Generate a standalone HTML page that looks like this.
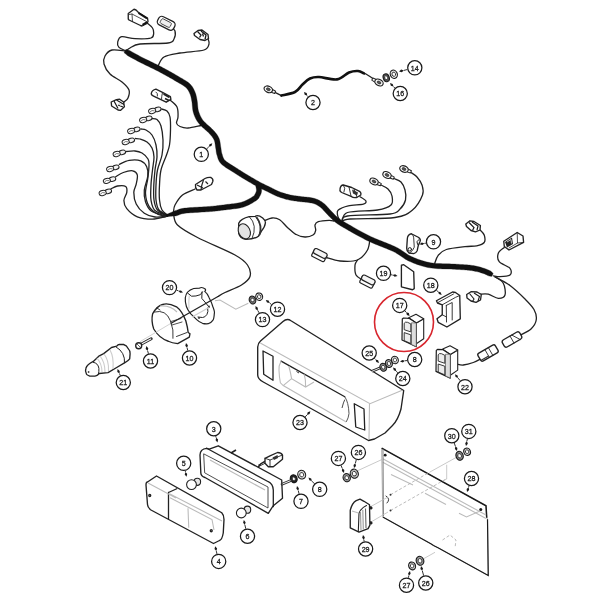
<!DOCTYPE html>
<html><head><meta charset="utf-8"><style>
html,body{margin:0;padding:0;background:#fff;width:600px;height:600px;overflow:hidden}
svg{display:block;transform:translateZ(0);filter:blur(0.3px)}
text{font-family:"Liberation Sans",sans-serif;font-size:8.1px;letter-spacing:0px;text-anchor:middle;fill:#1a1a1a;stroke:#1a1a1a;stroke-width:0.3}
.w{fill:none;stroke:#222;stroke-width:1.3;stroke-linecap:round;stroke-linejoin:round}
.h{fill:none;stroke:#111;stroke-width:5.5;stroke-linecap:round;stroke-linejoin:round}
.o{fill:#fff;stroke:#222;stroke-width:1.35;stroke-linejoin:round}
.of{fill:none;stroke:#222;stroke-width:1.3;stroke-linejoin:round;stroke-linecap:round}
.g{fill:none;stroke:#bbb;stroke-width:1.1}
.lc{fill:#fff;stroke:#1a1a1a;stroke-width:1.25}
.ld{stroke:#1a1a1a;stroke-width:0.9}
.ah{fill:#1a1a1a}
.dk{fill:#333;stroke:#111;stroke-width:0.8}
</style></head><body>
<svg width="600" height="600" viewBox="0 0 600 600">
<path d="M147.0,23.0 C147.9,23.8 151.4,26.3 152.5,28.0 C153.6,29.7 153.9,31.3 153.7,33.0 C153.4,34.7 154.1,37.0 151.0,38.0 C147.9,39.0 139.9,38.9 135.0,38.7 C130.1,38.5 124.6,36.2 121.7,36.7 C118.8,37.2 118.2,40.2 117.7,42.0 C117.2,43.8 117.8,45.9 119.0,47.3 C120.2,48.7 124.0,50.0 125.0,50.5" class="w"/>
<path d="M171.0,27.0 C171.7,27.7 174.5,29.0 175.0,31.0 C175.5,33.0 175.2,37.0 174.0,39.0 C172.8,41.0 173.7,42.2 168.0,43.0 C162.3,43.8 146.3,43.2 140.0,44.0 C133.7,44.8 132.3,46.8 130.0,48.0 C127.7,49.2 126.7,50.5 126.0,51.0" class="w"/>
<path d="M208.0,39.0 C208.2,39.8 209.7,42.2 209.0,44.0 C208.3,45.8 208.8,48.5 204.0,50.0 C199.2,51.5 186.7,51.8 180.0,53.0 C173.3,54.2 167.7,54.8 164.0,57.0 C160.3,59.2 159.0,64.5 158.0,66.0" class="w"/>
<path d="M125.0,51.0 C122.8,50.8 115.3,49.2 112.0,50.0 C108.7,50.8 106.3,53.7 105.0,56.0 C103.7,58.3 103.2,61.0 104.0,64.0 C104.8,67.0 107.0,71.0 110.0,74.0 C113.0,77.0 118.8,79.3 122.0,82.0 C125.2,84.7 128.0,87.3 129.0,90.0 C130.0,92.7 128.8,96.0 128.0,98.0 C127.2,100.0 124.7,101.3 124.0,102.0" class="w"/>
<path d="M170.0,100.0 C171.2,101.2 175.7,104.2 177.0,107.0 C178.3,109.8 178.1,114.3 178.0,117.0 C177.9,119.7 176.2,121.4 176.5,123.0 C176.8,124.6 178.1,125.7 180.0,126.5 C181.9,127.3 184.5,128.2 188.0,128.0 C191.5,127.8 198.8,125.9 201.0,125.5" class="w"/>
<path d="M161.5,109.0 C162.4,109.3 165.6,109.7 167.0,111.0 C168.4,112.3 169.4,113.8 170.0,117.0 C170.6,120.2 170.6,125.3 170.5,130.0 C170.4,134.7 170.2,140.8 169.5,145.0 C168.8,149.2 167.9,150.8 166.5,155.0 C165.1,159.2 162.2,165.0 161.0,170.0 C159.8,175.0 159.8,180.0 159.5,185.0 C159.2,190.0 159.1,195.8 159.5,200.0 C159.9,204.2 160.7,207.5 162.0,210.0 C163.3,212.5 166.6,214.2 167.5,215.0" class="w"/>
<path d="M152.0,118.5 C152.8,118.7 155.5,118.2 157.0,119.5 C158.5,120.8 160.0,122.6 161.0,126.0 C162.0,129.4 162.8,135.2 163.0,140.0 C163.2,144.8 162.9,150.0 162.0,155.0 C161.1,160.0 158.5,165.0 157.5,170.0 C156.5,175.0 156.2,180.0 156.0,185.0 C155.8,190.0 155.5,195.8 156.0,200.0 C156.5,204.2 157.1,207.5 159.0,210.0 C160.9,212.5 166.1,214.3 167.5,215.2" class="w"/>
<path d="M141.0,129.0 C141.8,129.2 144.2,129.0 146.0,130.0 C147.8,131.0 150.3,132.5 152.0,135.0 C153.7,137.5 155.2,141.3 156.0,145.0 C156.8,148.7 157.2,152.8 157.0,157.0 C156.8,161.2 155.5,165.3 155.0,170.0 C154.5,174.7 154.0,180.0 153.8,185.0 C153.6,190.0 153.4,195.8 154.0,200.0 C154.6,204.2 155.2,207.4 157.5,210.0 C159.8,212.6 165.8,214.5 167.5,215.4" class="w"/>
<path d="M135.5,138.5 C136.2,138.6 138.1,138.4 140.0,139.0 C141.9,139.6 145.0,140.5 147.0,142.0 C149.0,143.5 150.8,145.5 152.0,148.0 C153.2,150.5 153.9,153.3 154.0,157.0 C154.1,160.7 153.0,165.3 152.5,170.0 C152.0,174.7 151.2,180.0 151.0,185.0 C150.8,190.0 150.3,195.8 151.0,200.0 C151.7,204.2 152.2,207.9 155.0,210.5 C157.8,213.1 165.4,214.8 167.5,215.6" class="w"/>
<path d="M126.5,151.5 C127.9,151.4 132.4,150.8 135.0,151.0 C137.6,151.2 139.8,151.7 142.0,153.0 C144.2,154.3 146.8,157.0 148.0,159.0 C149.2,161.0 149.0,161.8 149.0,165.0 C149.0,168.2 148.4,173.6 147.8,178.3 C147.2,183.1 145.3,188.8 145.5,193.5 C145.7,198.2 146.9,202.8 149.0,206.3 C151.1,209.8 155.2,212.9 158.3,214.5 C161.4,216.1 166.0,215.6 167.5,215.8" class="w"/>
<path d="M119.3,164.3 C120.9,163.6 125.6,160.9 129.2,160.3 C132.8,159.7 137.9,159.7 140.8,160.8 C143.7,161.9 145.5,164.2 146.7,166.7 C147.9,169.2 148.2,172.1 147.8,176.0 C147.4,179.9 144.7,185.7 144.3,190.0 C143.9,194.3 144.3,198.2 145.5,201.7 C146.7,205.2 148.0,208.7 151.3,211.0 C154.6,213.3 162.6,214.9 165.3,215.7 C168.0,216.5 167.1,215.9 167.5,216.0" class="w"/>
<path d="M115.8,176.6 C117.0,175.9 120.5,173.5 123.3,172.5 C126.1,171.5 130.4,170.4 132.7,170.8 C135.0,171.2 136.7,172.6 137.3,174.8 C137.9,177.0 136.8,181.3 136.2,184.2 C135.6,187.1 133.8,189.0 133.8,192.3 C133.8,195.6 134.4,200.5 136.2,204.0 C137.9,207.5 141.2,211.1 144.3,213.3 C147.4,215.5 151.1,216.5 155.0,217.0 C158.9,217.5 165.4,216.3 167.5,216.2" class="w"/>
<path d="M111.0,188.8 C112.1,188.3 115.0,186.4 117.5,186.0 C120.0,185.6 124.2,185.4 125.7,186.5 C127.2,187.6 127.1,190.0 126.8,192.3 C126.5,194.6 123.9,197.8 123.9,200.5 C123.9,203.2 124.6,206.0 126.8,208.7 C129.0,211.4 133.0,215.1 137.3,216.8 C141.6,218.6 147.8,219.2 152.5,219.2 C157.2,219.2 162.4,217.4 165.3,216.8 C168.2,216.2 169.2,215.7 170.0,215.5" class="w"/>
<path d="M195.0,189.0 C192.9,190.0 185.8,192.3 182.5,195.0 C179.2,197.7 176.5,202.2 175.0,205.0 C173.5,207.8 173.8,210.8 173.5,212.0" class="w"/>
<path d="M173.5,214.0 C174.2,215.8 173.5,221.1 177.5,225.0 C181.5,228.9 187.9,232.5 197.5,237.5 C207.1,242.5 226.7,250.4 235.0,255.0 C243.3,259.6 245.0,261.4 247.5,265.0 C250.0,268.6 251.0,273.2 250.0,276.5 C249.0,279.8 245.7,282.3 241.5,285.0 C237.3,287.7 228.9,290.6 225.0,292.5 C221.1,294.4 219.2,295.8 218.0,296.5" class="w"/>
<path d="M264.7,220.7 C265.9,220.2 269.5,218.2 272.0,218.0 C274.5,217.8 277.1,218.1 279.7,219.7 C282.3,221.3 285.0,225.3 287.7,227.7 C290.4,230.1 292.8,232.8 295.7,234.3 C298.6,235.9 302.1,236.9 305.0,237.0 C307.9,237.1 311.2,236.1 313.0,235.0 C314.8,233.9 315.4,232.0 315.7,230.3 C316.0,228.6 314.6,226.4 315.0,225.0 C315.4,223.6 316.0,222.5 318.3,221.7 C320.6,220.9 326.4,220.4 329.0,220.3 C331.6,220.2 333.2,220.9 334.0,221.0" class="w"/>
<path d="M360.0,196.7 C361.0,197.4 365.2,199.6 365.8,200.8 C366.4,202.1 366.2,203.4 363.3,204.2 C360.4,205.0 352.5,204.8 348.3,205.8 C344.1,206.8 340.1,208.5 338.3,210.0 C336.5,211.5 337.3,213.2 337.5,215.0 C337.7,216.8 339.2,219.6 339.5,220.5" class="w"/>
<path d="M381.0,185.0 C382.2,185.7 386.2,187.2 388.0,189.0 C389.8,190.8 391.5,193.3 392.0,196.0 C392.5,198.7 393.4,202.7 391.0,205.0 C388.6,207.3 384.8,208.8 377.5,210.0 C370.2,211.2 353.4,210.5 347.5,212.5 C341.6,214.5 342.9,220.4 342.0,222.0" class="w"/>
<path d="M394.0,178.5 C395.2,179.1 399.2,180.1 401.0,182.0 C402.8,183.9 404.2,187.0 405.0,190.0 C405.8,193.0 406.3,196.8 405.5,200.0 C404.7,203.2 402.6,206.7 400.0,209.0 C397.4,211.3 398.8,212.8 390.0,214.0 C381.2,215.2 355.5,214.7 347.5,216.0 C339.5,217.3 342.9,221.0 342.0,222.0" class="w"/>
<path d="M411.0,172.5 C412.0,173.2 415.2,174.9 417.0,177.0 C418.8,179.1 421.1,182.0 422.0,185.0 C422.9,188.0 424.1,190.8 422.5,195.0 C420.9,199.2 417.1,206.2 412.5,210.0 C407.9,213.8 405.4,216.0 395.0,217.5 C384.6,219.0 358.8,218.2 350.0,219.0 C341.2,219.8 343.3,221.5 342.0,222.0" class="w"/>
<path d="M326.0,257.5 C328.3,258.1 334.8,260.6 340.0,261.0 C345.2,261.4 352.9,261.8 357.5,260.0 C362.1,258.2 365.4,253.7 367.5,250.0 C369.6,246.3 369.6,240.0 370.0,238.0" class="w"/>
<path d="M357.5,260.0 C357.1,260.8 355.2,262.5 355.0,265.0 C354.8,267.5 354.8,272.5 356.0,275.0 C357.2,277.5 361.4,279.2 362.5,280.0" class="w"/>
<path d="M434.7,263.5 C435.3,262.1 436.3,257.6 438.2,255.3 C440.1,253.0 441.8,250.9 446.3,249.5 C450.8,248.1 459.9,247.2 465.0,246.6 C470.1,246.0 473.5,246.5 476.7,245.8 C479.9,245.1 482.9,244.3 484.2,242.5 C485.4,240.7 484.9,237.1 484.2,235.0 C483.5,232.9 480.7,230.8 480.0,230.0" class="w"/>
<path d="M493.3,275.8 C494.4,275.9 497.2,276.8 500.0,276.7 C502.8,276.6 508.3,276.4 510.0,275.0 C511.7,273.6 511.8,270.5 510.0,268.3 C508.2,266.1 501.1,264.2 499.2,261.7 C497.2,259.2 497.5,255.7 498.3,253.3 C499.1,250.9 503.2,248.5 504.2,247.5" class="w"/>
<path d="M495.0,276.7 C496.4,277.8 501.6,280.2 503.3,283.3 C505.0,286.4 505.8,292.5 505.0,295.0 C504.2,297.5 501.1,298.4 498.3,298.3 C495.5,298.2 491.4,294.9 488.3,294.2 C485.2,293.5 481.4,294.2 480.0,294.2" class="w"/>
<path d="M495.0,277.0 C497.5,278.4 505.0,281.8 510.0,285.5 C515.0,289.2 521.0,295.0 525.0,299.0 C529.0,303.0 532.1,306.0 534.0,309.5 C535.9,313.0 536.8,316.8 536.2,320.0 C535.8,323.2 533.6,326.5 531.0,329.0 C528.4,331.5 522.2,334.0 520.5,335.0" class="w"/>
<path d="M456.7,364.2 C457.8,364.3 460.5,365.3 463.3,365.0 C466.1,364.7 470.5,363.5 473.3,362.5 C476.1,361.5 478.9,359.8 480.0,359.2" class="w"/>
<path d="M275.0,92.3 C276.1,92.8 280.4,95.0 281.5,95.6" class="w"/>
<path d="M364.0,73.4 C364.3,73.5 364.5,73.2 366.0,74.0 C367.5,74.8 371.8,77.8 373.0,78.5" class="w"/>
<path d="M258.3,466.7 C258.9,466.1 260.7,463.9 262.0,463.0 C263.3,462.1 265.3,461.3 266.0,461.0" class="w"/>
<path d="M124.07,52.66 L124.70,53.19 L125.46,53.85 L126.35,54.62 L127.37,55.44 L128.61,56.14 L129.93,56.88 L131.32,57.67 L132.77,58.47 L134.25,59.29 L135.76,60.10 L137.26,60.91 L138.76,61.70 L140.28,62.48 L141.87,63.27 L143.51,64.08 L145.19,64.90 L146.91,65.73 L148.64,66.57 L150.38,67.41 L152.11,68.25 L153.83,69.09 L155.51,69.93 L157.16,70.77 L158.75,71.59 L160.32,72.43 L161.92,73.29 L163.53,74.16 L165.14,75.05 L166.73,75.93 L168.30,76.81 L169.83,77.68 L171.32,78.53 L172.76,79.36 L174.13,80.16 L175.42,80.91 L176.63,81.63 L177.77,82.30 L178.84,82.92 L179.84,83.50 L180.77,84.04 L181.63,84.55 L182.43,85.03 L183.17,85.49 L183.85,85.95 L184.48,86.39 L185.07,86.84 L185.62,87.29 L186.14,87.76 L186.62,88.24 L187.05,88.71 L187.43,89.18 L187.79,89.66 L188.11,90.15 L188.41,90.65 L188.69,91.17 L188.97,91.71 L189.23,92.26 L189.49,92.84 L189.75,93.44 L190.01,94.04 L190.24,94.60 L190.43,95.14 L190.61,95.67 L190.77,96.22 L190.92,96.78 L191.05,97.36 L191.19,97.97 L191.31,98.60 L191.44,99.27 L191.57,99.97 L191.70,100.71 L191.84,101.46 L191.96,102.20 L192.06,102.97 L192.14,103.81 L192.22,104.71 L192.29,105.64 L192.37,106.61 L192.47,107.61 L192.58,108.63 L192.72,109.66 L192.90,110.71 L193.13,111.76 L193.41,112.77 L193.72,113.72 L194.03,114.63 L194.37,115.55 L194.73,116.46 L195.12,117.37 L195.54,118.27 L195.99,119.17 L196.49,120.07 L197.02,120.97 L197.59,121.87 L198.28,122.70 L198.95,123.60 L199.71,124.53 L200.56,125.44 L201.45,126.33 L202.37,127.19 L203.32,128.04 L204.26,128.87 L205.20,129.68 L206.11,130.46 L206.97,131.22 L207.76,131.94 L208.47,132.62 L209.10,133.28 L209.70,133.93 L210.28,134.58 L210.82,135.19 L211.32,135.77 L211.77,136.32 L212.20,136.86 L212.58,137.38 L212.94,137.90 L213.27,138.41 L213.57,138.94 L213.86,139.48 L214.11,140.03 L214.34,140.59 L214.53,141.18 L214.70,141.82 L214.85,142.50 L214.98,143.21 L215.10,143.95 L215.20,144.70 L215.30,145.46 L215.40,146.23 L215.50,146.99 L215.62,147.75 L215.74,148.46 L215.85,149.06 L215.93,149.59 L216.00,150.11 L216.07,150.62 L216.13,151.14 L216.20,151.67 L216.28,152.22 L216.37,152.80 L216.49,153.40 L216.64,154.02 L216.82,154.68 L217.03,155.31 L217.21,155.87 L217.38,156.43 L217.55,157.05 L217.74,157.72 L217.97,158.43 L218.23,159.19 L218.56,159.98 L218.96,160.80 L219.44,161.64 L220.02,162.49 L220.70,163.33 L221.48,164.16 L222.39,164.98 L223.40,165.80 L224.49,166.60 L225.66,167.41 L226.87,168.21 L228.11,169.00 L229.36,169.77 L230.59,170.52 L231.78,171.25 L232.91,171.94 L233.95,172.58 L234.89,173.18 L235.74,173.74 L236.52,174.25 L237.25,174.73 L237.94,175.17 L238.59,175.60 L239.24,176.01 L239.88,176.42 L240.55,176.83 L241.24,177.26 L241.98,177.71 L242.78,178.20 L243.66,178.73 L244.62,179.30 L245.65,179.92 L246.74,180.56 L247.87,181.23 L249.03,181.92 L250.22,182.61 L251.41,183.30 L252.60,183.99 L253.77,184.65 L254.91,185.30 L256.01,185.91 L257.06,186.49 L258.07,187.03 L259.06,187.54 L260.02,188.03 L260.95,188.50 L261.87,188.95 L262.77,189.39 L263.65,189.81 L264.51,190.23 L265.36,190.63 L266.20,191.03 L267.03,191.43 L267.85,191.83 L268.65,192.23 L269.43,192.63 L270.20,193.02 L270.96,193.41 L271.71,193.80 L272.47,194.19 L273.24,194.58 L274.02,194.96 L274.82,195.34 L275.64,195.71 L276.48,196.07 L277.35,196.42 L278.24,196.76 L279.14,197.09 L280.07,197.41 L281.00,197.73 L281.94,198.03 L282.89,198.32 L283.84,198.61 L284.78,198.88 L285.71,199.14 L286.62,199.38 L287.52,199.61 L288.40,199.83 L289.24,200.02 L290.04,200.20 L290.81,200.35 L291.56,200.48 L292.29,200.60 L293.01,200.70 L293.74,200.81 L294.49,200.91 L295.27,201.01 L296.09,201.12 L296.97,201.24 L297.95,201.38 L299.05,201.52 L300.26,201.66 L301.53,201.80 L302.86,201.93 L304.21,202.07 L305.58,202.22 L306.93,202.37 L308.24,202.53 L309.49,202.70 L310.66,202.89 L311.72,203.10 L312.65,203.32 L313.49,203.55 L314.26,203.80 L314.97,204.06 L315.62,204.33 L316.23,204.61 L316.80,204.90 L317.36,205.21 L317.90,205.54 L318.45,205.89 L319.00,206.27 L319.57,206.67 L320.15,207.09 L320.68,207.49 L321.16,207.90 L321.64,208.34 L322.11,208.81 L322.59,209.31 L323.07,209.84 L323.57,210.40 L324.09,210.98 L324.63,211.59 L325.20,212.22 L325.81,212.87 L326.44,213.52 L327.06,214.15 L327.67,214.79 L328.30,215.46 L328.94,216.16 L329.61,216.87 L330.31,217.61 L331.03,218.35 L331.77,219.10 L332.55,219.85 L333.36,220.60 L334.21,221.33 L335.09,222.04 L335.96,222.71 L336.81,223.33 L337.66,223.93 L338.52,224.51 L339.40,225.08 L340.30,225.65 L341.25,226.23 L342.25,226.82 L343.31,227.44 L344.45,228.10 L345.68,228.80 L347.01,229.56 L348.46,230.38 L350.01,231.27 L351.66,232.21 L353.39,233.18 L355.19,234.20 L357.06,235.23 L358.98,236.27 L360.93,237.32 L362.91,238.36 L364.90,239.39 L366.90,240.39 L368.89,241.35 L370.94,242.29 L373.07,243.22 L375.26,244.14 L377.48,245.05 L379.72,245.94 L381.95,246.82 L384.15,247.69 L386.30,248.54 L388.36,249.39 L390.33,250.22 L392.17,251.03 L393.85,251.83 L395.36,252.61 L396.72,253.39 L397.98,254.17 L399.17,254.95 L400.31,255.74 L401.42,256.53 L402.55,257.32 L403.71,258.12 L404.93,258.91 L406.23,259.69 L407.62,260.44 L409.11,261.16 L410.63,261.84 L412.16,262.49 L413.73,263.14 L415.33,263.77 L416.97,264.39 L418.65,264.98 L420.37,265.54 L422.12,266.07 L423.91,266.57 L425.75,267.03 L427.63,267.44 L429.56,267.81 L431.58,268.12 L433.70,268.37 L435.88,268.56 L438.11,268.71 L440.36,268.81 L442.61,268.90 L444.84,268.96 L447.03,269.01 L449.14,269.06 L451.17,269.12 L453.07,269.20 L454.85,269.30 L456.54,269.40 L458.16,269.50 L459.71,269.59 L461.19,269.68 L462.61,269.76 L463.97,269.85 L465.28,269.94 L466.55,270.04 L467.78,270.15 L468.98,270.27 L470.16,270.41 L471.32,270.57 L472.47,270.75 L473.58,270.95 L474.66,271.16 L475.71,271.38 L476.73,271.61 L477.73,271.85 L478.69,272.10 L479.64,272.36 L480.55,272.63 L481.45,272.90 L482.32,273.18 L483.15,273.46 L483.95,273.74 L484.74,274.06 L485.54,274.40 L486.32,274.76 L487.10,275.13 L487.84,275.51 L488.55,275.87 L489.33,276.03 L490.06,276.15 L490.72,276.26 L491.31,276.36 L491.79,276.44 L493.21,273.56 L492.89,273.24 L492.52,272.85 L492.06,272.37 L491.55,271.83 L490.95,271.26 L490.20,270.87 L489.39,270.46 L488.53,270.05 L487.65,269.65 L486.73,269.25 L485.79,268.88 L484.85,268.54 L483.92,268.24 L482.99,267.94 L482.04,267.65 L481.05,267.36 L480.04,267.08 L479.00,266.81 L477.93,266.55 L476.82,266.30 L475.69,266.06 L474.52,265.83 L473.32,265.62 L472.08,265.43 L470.82,265.25 L469.55,265.10 L468.28,264.97 L466.98,264.86 L465.66,264.75 L464.32,264.66 L462.93,264.57 L461.50,264.49 L460.01,264.40 L458.47,264.31 L456.86,264.21 L455.15,264.10 L453.31,264.00 L451.34,263.93 L449.28,263.87 L447.15,263.81 L444.98,263.76 L442.78,263.70 L440.58,263.62 L438.40,263.51 L436.28,263.38 L434.22,263.20 L432.27,262.97 L430.44,262.69 L428.68,262.35 L426.94,261.97 L425.24,261.54 L423.57,261.08 L421.93,260.58 L420.32,260.05 L418.75,259.50 L417.20,258.92 L415.68,258.32 L414.18,257.70 L412.71,257.07 L411.29,256.44 L409.99,255.81 L408.80,255.17 L407.68,254.50 L406.60,253.79 L405.52,253.05 L404.43,252.28 L403.28,251.47 L402.08,250.64 L400.78,249.78 L399.37,248.92 L397.83,248.04 L396.15,247.17 L394.33,246.31 L392.40,245.45 L390.36,244.59 L388.24,243.72 L386.07,242.85 L383.86,241.98 L381.64,241.10 L379.42,240.22 L377.24,239.33 L375.11,238.44 L373.06,237.55 L371.11,236.65 L369.19,235.72 L367.25,234.75 L365.31,233.75 L363.37,232.73 L361.45,231.70 L359.56,230.67 L357.72,229.65 L355.94,228.65 L354.22,227.68 L352.58,226.75 L351.03,225.87 L349.59,225.04 L348.26,224.28 L347.04,223.59 L345.92,222.94 L344.89,222.34 L343.93,221.77 L343.03,221.23 L342.19,220.70 L341.39,220.18 L340.61,219.65 L339.85,219.11 L339.08,218.55 L338.31,217.96 L337.55,217.34 L336.82,216.71 L336.11,216.06 L335.42,215.39 L334.74,214.71 L334.07,214.02 L333.41,213.32 L332.75,212.61 L332.10,211.91 L331.45,211.22 L330.80,210.53 L330.16,209.88 L329.57,209.28 L329.03,208.70 L328.50,208.12 L327.98,207.53 L327.46,206.94 L326.93,206.35 L326.39,205.76 L325.82,205.17 L325.23,204.58 L324.61,204.01 L323.94,203.44 L323.25,202.91 L322.59,202.44 L321.96,201.99 L321.32,201.55 L320.65,201.13 L319.97,200.71 L319.25,200.31 L318.49,199.93 L317.69,199.56 L316.84,199.21 L315.95,198.88 L314.99,198.58 L313.95,198.28 L312.81,198.01 L311.57,197.77 L310.27,197.56 L308.92,197.37 L307.53,197.20 L306.14,197.05 L304.75,196.90 L303.39,196.76 L302.07,196.63 L300.83,196.49 L299.69,196.36 L298.65,196.22 L297.69,196.09 L296.78,195.96 L295.95,195.85 L295.17,195.75 L294.44,195.65 L293.75,195.56 L293.09,195.46 L292.43,195.35 L291.77,195.23 L291.09,195.10 L290.37,194.95 L289.60,194.77 L288.79,194.57 L287.94,194.35 L287.08,194.12 L286.19,193.88 L285.30,193.62 L284.41,193.35 L283.52,193.07 L282.63,192.79 L281.75,192.49 L280.89,192.19 L280.05,191.89 L279.25,191.58 L278.48,191.27 L277.73,190.95 L277.00,190.62 L276.28,190.28 L275.55,189.92 L274.83,189.56 L274.09,189.18 L273.35,188.79 L272.58,188.40 L271.80,187.99 L270.99,187.58 L270.15,187.17 L269.30,186.75 L268.45,186.35 L267.60,185.94 L266.75,185.54 L265.90,185.13 L265.03,184.71 L264.16,184.28 L263.27,183.85 L262.37,183.39 L261.44,182.92 L260.50,182.43 L259.54,181.91 L258.52,181.36 L257.45,180.76 L256.33,180.13 L255.18,179.47 L254.01,178.80 L252.83,178.12 L251.66,177.43 L250.51,176.75 L249.39,176.09 L248.31,175.45 L247.29,174.84 L246.34,174.27 L245.47,173.75 L244.69,173.27 L243.97,172.83 L243.29,172.41 L242.65,172.01 L242.03,171.62 L241.40,171.22 L240.76,170.81 L240.09,170.37 L239.37,169.90 L238.58,169.39 L237.71,168.82 L236.72,168.18 L235.64,167.51 L234.49,166.81 L233.30,166.08 L232.09,165.34 L230.88,164.59 L229.69,163.84 L228.56,163.10 L227.51,162.37 L226.57,161.67 L225.76,161.02 L225.12,160.44 L224.61,159.90 L224.19,159.38 L223.84,158.87 L223.55,158.37 L223.31,157.86 L223.09,157.33 L222.90,156.79 L222.72,156.22 L222.55,155.63 L222.38,155.00 L222.18,154.33 L221.97,153.69 L221.80,153.16 L221.67,152.72 L221.57,152.29 L221.49,151.86 L221.42,151.43 L221.35,150.98 L221.29,150.50 L221.23,149.98 L221.16,149.43 L221.08,148.83 L220.98,148.19 L220.86,147.54 L220.75,146.92 L220.65,146.26 L220.56,145.55 L220.46,144.80 L220.36,144.00 L220.24,143.18 L220.10,142.33 L219.94,141.46 L219.75,140.59 L219.51,139.71 L219.23,138.82 L218.89,137.97 L218.52,137.18 L218.13,136.43 L217.71,135.72 L217.28,135.03 L216.81,134.36 L216.33,133.70 L215.82,133.06 L215.29,132.42 L214.74,131.77 L214.16,131.12 L213.56,130.45 L212.90,129.72 L212.15,128.94 L211.31,128.14 L210.43,127.34 L209.52,126.54 L208.60,125.74 L207.67,124.94 L206.76,124.15 L205.89,123.36 L205.06,122.59 L204.30,121.83 L203.63,121.10 L203.05,120.40 L202.51,119.67 L202.09,118.88 L201.62,118.15 L201.18,117.41 L200.78,116.66 L200.40,115.92 L200.05,115.16 L199.72,114.39 L199.41,113.62 L199.12,112.83 L198.84,112.02 L198.59,111.23 L198.38,110.46 L198.20,109.67 L198.06,108.84 L197.94,107.96 L197.84,107.06 L197.75,106.14 L197.67,105.20 L197.60,104.26 L197.52,103.31 L197.42,102.37 L197.30,101.43 L197.16,100.54 L197.02,99.74 L196.88,99.00 L196.75,98.28 L196.61,97.56 L196.47,96.86 L196.32,96.16 L196.15,95.47 L195.97,94.77 L195.77,94.07 L195.53,93.37 L195.27,92.66 L194.99,91.96 L194.71,91.30 L194.43,90.65 L194.13,89.99 L193.81,89.32 L193.47,88.65 L193.09,87.96 L192.67,87.27 L192.21,86.57 L191.71,85.88 L191.15,85.19 L190.53,84.51 L189.86,83.84 L189.15,83.20 L188.42,82.60 L187.67,82.03 L186.89,81.48 L186.09,80.95 L185.26,80.43 L184.40,79.91 L183.49,79.38 L182.55,78.83 L181.55,78.25 L180.49,77.64 L179.37,76.97 L178.15,76.26 L176.85,75.49 L175.46,74.69 L174.01,73.85 L172.50,72.99 L170.95,72.11 L169.36,71.22 L167.75,70.32 L166.12,69.43 L164.49,68.54 L162.87,67.66 L161.25,66.81 L159.62,65.96 L157.94,65.11 L156.22,64.25 L154.48,63.40 L152.73,62.55 L150.99,61.71 L149.25,60.87 L147.55,60.05 L145.88,59.23 L144.27,58.44 L142.72,57.66 L141.24,56.90 L139.79,56.14 L138.32,55.35 L136.84,54.55 L135.38,53.74 L133.95,52.95 L132.57,52.18 L131.26,51.44 L130.04,50.74 L128.81,50.29 L127.69,49.92 L126.72,49.60 L125.93,49.34Z" style="fill:#111;stroke:#111;stroke-width:0.3;stroke-linejoin:round"/>
<path d="M255.73,185.91 L255.78,186.21 L255.85,186.57 L255.93,186.97 L256.01,187.39 L256.10,187.83 L256.18,188.28 L256.26,188.74 L256.33,189.18 L256.38,189.60 L256.41,189.97 L256.42,190.27 L256.41,190.51 L256.38,190.75 L256.34,191.01 L256.29,191.27 L256.22,191.53 L256.14,191.79 L256.05,192.05 L255.95,192.31 L255.84,192.58 L255.71,192.85 L255.57,193.12 L255.42,193.40 L255.24,193.72 L255.03,194.10 L254.84,194.46 L254.70,194.76 L254.59,194.98 L254.50,195.14 L254.42,195.26 L254.34,195.37 L254.22,195.51 L254.03,195.68 L253.76,195.91 L253.39,196.18 L252.88,196.52 L252.23,196.93 L251.49,197.40 L250.69,197.90 L249.83,198.42 L248.91,198.95 L247.95,199.48 L246.94,200.01 L245.91,200.52 L244.84,201.00 L243.76,201.45 L242.67,201.85 L241.57,202.21 L240.42,202.51 L239.17,202.80 L237.84,203.05 L236.44,203.28 L234.99,203.49 L233.51,203.69 L232.01,203.87 L230.50,204.04 L229.00,204.21 L227.52,204.37 L226.06,204.54 L224.67,204.72 L223.36,204.90 L222.14,205.06 L220.99,205.21 L219.87,205.35 L218.78,205.49 L217.68,205.62 L216.55,205.75 L215.38,205.88 L214.14,206.01 L212.81,206.14 L211.36,206.27 L209.79,206.41 L208.03,206.54 L206.07,206.68 L203.95,206.80 L201.71,206.93 L199.39,207.06 L197.04,207.19 L194.71,207.32 L192.43,207.46 L190.24,207.60 L188.20,207.76 L186.33,207.93 L184.67,208.12 L183.22,208.33 L181.94,208.56 L180.81,208.81 L179.80,209.08 L178.91,209.36 L178.11,209.64 L177.39,209.91 L176.75,210.17 L176.16,210.40 L175.58,210.61 L175.00,210.80 L174.37,211.11 L173.63,211.43 L172.84,211.76 L172.01,212.10 L171.18,212.43 L170.35,212.76 L169.53,213.08 L168.75,213.38 L168.01,213.67 L167.33,213.93 L166.73,214.16 L166.21,214.36 L165.79,214.52 L166.21,216.48 L166.66,216.45 L167.21,216.42 L167.85,216.39 L168.58,216.36 L169.37,216.32 L170.22,216.27 L171.10,216.22 L172.01,216.17 L172.93,216.11 L173.84,216.05 L174.74,215.98 L175.63,215.89 L176.50,215.78 L177.29,215.52 L178.00,215.26 L178.66,215.00 L179.28,214.76 L179.89,214.52 L180.53,214.30 L181.23,214.08 L182.03,213.87 L182.96,213.66 L184.05,213.46 L185.33,213.28 L186.85,213.11 L188.63,212.94 L190.62,212.79 L192.76,212.65 L195.01,212.51 L197.33,212.38 L199.67,212.25 L202.00,212.12 L204.25,211.99 L206.40,211.87 L208.41,211.73 L210.21,211.59 L211.82,211.45 L213.30,211.32 L214.66,211.18 L215.93,211.05 L217.13,210.92 L218.29,210.79 L219.41,210.65 L220.53,210.51 L221.66,210.37 L222.82,210.21 L224.04,210.05 L225.33,209.88 L226.69,209.71 L228.11,209.54 L229.58,209.38 L231.08,209.21 L232.62,209.03 L234.16,208.85 L235.71,208.65 L237.24,208.42 L238.75,208.17 L240.23,207.89 L241.66,207.56 L243.03,207.19 L244.36,206.77 L245.66,206.29 L246.91,205.77 L248.13,205.22 L249.30,204.64 L250.41,204.06 L251.47,203.47 L252.47,202.90 L253.40,202.34 L254.25,201.81 L255.02,201.33 L255.72,200.88 L256.37,200.44 L256.96,200.01 L257.48,199.57 L257.95,199.13 L258.35,198.68 L258.69,198.23 L258.97,197.80 L259.18,197.41 L259.35,197.07 L259.49,196.79 L259.62,196.55 L259.76,196.28 L259.96,195.93 L260.18,195.53 L260.38,195.13 L260.58,194.71 L260.76,194.28 L260.94,193.84 L261.09,193.38 L261.23,192.91 L261.35,192.43 L261.46,191.94 L261.53,191.43 L261.59,190.89 L261.62,190.29 L261.60,189.68 L261.55,189.08 L261.48,188.50 L261.40,187.93 L261.30,187.38 L261.21,186.86 L261.11,186.38 L261.03,185.94 L260.95,185.58 L260.90,185.30 L260.87,185.09Z" style="fill:#111;stroke:#111;stroke-width:0.3;stroke-linejoin:round"/>
<path d="M281.5,95.6 C283.8,95.0 291.5,93.8 295.0,92.0 C298.5,90.2 300.0,86.8 302.5,84.5 C305.0,82.2 307.2,79.8 310.0,78.5 C312.8,77.2 314.5,76.8 319.0,77.0 C323.5,77.2 332.0,80.2 337.0,79.4 C342.0,78.7 345.5,73.9 349.0,72.5 C352.5,71.1 355.5,70.8 358.0,71.0 C360.5,71.2 363.0,73.0 364.0,73.4" style="fill:none;stroke:#111;stroke-width:2.6;stroke-linecap:round"/>
<path d="M128.25,13.5 L134,9.25 L136,10 L138.5,12.5 L147.5,18 L148,21.5 L147,23.5 L142,26 L140.5,25.5 L129,20 L128.25,19 Z" class="o"/>
<path d="M129.5,14.5 L132,14 L146.5,21.5 M132,14 L132.5,21.5" class="of" style="stroke-width:0.8"/>
<path d="M138.5,13 L147,18.5 M142.5,24.8 L147.2,22" style="stroke:#111;stroke-width:2;fill:none"/>
<g transform="translate(166.2,23.3) rotate(27)"><rect x="-9" y="-4.6" width="18" height="9.2" rx="3.5" class="o" style="stroke-width:1.3"/><rect x="-6" y="-2.6" width="11" height="5.2" rx="1.5" style="fill:#eee;stroke:#333;stroke-width:0.8"/></g>
<path d="M194,33.5 L198,30.5 L202,30 L208,34.5 L208.5,38.5 L205,40.5 L200,39.5 L194.5,35.5 Z" class="o"/>
<path d="M197.5,31.5 L201,35 L199.5,37.5 M201,31 L206,35 L205,39.5 M202.5,33.5 L203.5,36.5" style="stroke:#1a1a1a;stroke-width:1.3;fill:none"/>
<path d="M111.2,102 L116.4,99.6 L119.6,99.2 L123.6,102 L124.4,106.8 L120.4,110.4 L118,110 L111.6,106 Z" class="o"/>
<path d="M114,101 L118,108.5 M116.5,100 L124,104.5 M118,105 L123,107" style="stroke:#1a1a1a;stroke-width:1.2;fill:none"/><path d="M119,102.5 L122,104.5 L121,106 L118.5,104.5 Z" style="fill:#ddd"/>
<path d="M151.3,93.3 Q152,90 155.9,89.1 L162.5,92.4 L170.4,96.6 L170.9,99.4 L166.2,102.2 L153.6,96.1 Q151,95 151.3,93.3 Z" class="o"/>
<path d="M162.5,92.4 Q161.5,97 161.5,99 M156,92 Q158,93 157.5,96" class="of" style="stroke-width:0.9"/><path d="M163.5,94 L169.5,97.5 M165,98.5 L169,100.5" style="stroke:#222;stroke-width:1.5"/>
<path d="M195.5,184.5 L205,178.5 Q208,177 211,177.5 Q213.5,179 212.8,181.5 L211.5,184.5 L201,190 L197,190 Q195,188 195.5,184.5 Z" class="o"/>
<path d="M203.5,180 Q201.5,185 201,190 M197,185 L203,188 M205.5,181.5 L208,184" style="stroke:#222;stroke-width:1.2;fill:none"/>
<path d="M340,189.2 Q340.5,185 343.3,185 L351.7,187.5 L360,191.7 Q361.5,193 360.8,195 L356.7,197.5 Q353,198 351.7,196.7 L341.7,192.5 Q339.5,191.5 340,189.2 Z" class="o"/>
<path d="M343.3,185 Q346,188 344,192 M349,187 L351,196 M354,189 L357,197" class="of" style="stroke-width:0.9"/><path d="M352,189.5 L358,192.5 L357,195.5 L353,193.5 Z" style="fill:#333"/>
<g transform="translate(319.5,255) rotate(27)"><rect x="-7" y="-3.5" width="14" height="8" rx="1.5" class="o" style="stroke-width:1.2"/><rect x="-7" y="-4.5" width="14" height="5.5" rx="2" style="fill:#f4f4f4;stroke:#222;stroke-width:1.2"/></g>
<g transform="translate(367.5,281.5) rotate(27)"><rect x="-7" y="-3.5" width="14" height="8" rx="1.5" class="o" style="stroke-width:1.2"/><rect x="-7" y="-4.5" width="14" height="5.5" rx="2" style="fill:#f4f4f4;stroke:#222;stroke-width:1.2"/></g>
<path d="M465.8,224 L470,220.8 L474,221.5 L480.4,225.5 L480,230 L475.5,231.9 L471,230.5 L466.5,226.5 Z" class="o"/><path d="M469,222.5 L474,227.5 L472.5,230.5 M472,222 L478,226 L477,230" style="stroke:#1a1a1a;stroke-width:1.2;fill:none"/>
<path d="M503.75,241.25 L517.2,232.5 L523,236 L523.6,242.4 L509,250 L504.3,246.5 Z" class="o"/>
<path d="M517.2,232.5 L517.5,243 L509,248 M517.5,243 L523.6,242.4" class="of" style="stroke-width:0.8"/><path d="M505,242 L512,237.5 L513,244 L507,247.5 Z" style="fill:#222"/><path d="M507,242 L511,239.5 L511.5,243.5" style="stroke:#eee;stroke-width:0.8;fill:none"/>
<path d="M466.7,294.5 L471,291.7 L477,292 L481.3,294.5 L480.5,300 L476,302.3 L471,301 L467,298 Z" class="o"/><path d="M469.5,293.5 L474,299 L472.5,301.5 M474,293 L479.5,296.5 L478,301" style="stroke:#1a1a1a;stroke-width:1.1;fill:none"/>
<g transform="translate(512,339.5) rotate(-30)"><rect x="-10" y="-4" width="20" height="8" rx="2.5" class="o"/><path d="M0,-4 L0,4 M2,-4 L7,4" class="of" style="stroke-width:0.8"/></g>
<g transform="translate(488,353) rotate(-30)"><rect x="-10" y="-4.5" width="20" height="9" rx="2" class="o"/><path d="M-1,-4.5 L-1,4.5 M3,-4.5 L3,4.5" class="of" style="stroke-width:0.8"/><path d="M-10,3 L-1,3" style="stroke:#333;stroke-width:1.2"/></g>
<g transform="translate(268.3,89.3) rotate(24)"><path d="M3,-1.6 L7.5,-1.2 L7.5,1.2 L3,1.6" class="o" style="stroke-width:1"/><ellipse rx="4.4" ry="3.1" class="o" style="stroke-width:1.2"/><ellipse cx="0" rx="2.1" ry="1.3" style="fill:#555;stroke:#222;stroke-width:0.6"/></g>
<g transform="translate(379,82.5) rotate(207)"><path d="M3,-1.6 L7.5,-1.2 L7.5,1.2 L3,1.6" class="o" style="stroke-width:1"/><ellipse rx="4.4" ry="3.1" class="o" style="stroke-width:1.2"/><ellipse cx="0" rx="2.1" ry="1.3" style="fill:#555;stroke:#222;stroke-width:0.6"/></g>
<g transform="translate(374,181.5) rotate(25)"><path d="M3,-1.6 L7.5,-1.2 L7.5,1.2 L3,1.6" class="o" style="stroke-width:1"/><ellipse rx="4.4" ry="3.1" class="o" style="stroke-width:1.2"/><ellipse cx="0" rx="2.1" ry="1.3" style="fill:#555;stroke:#222;stroke-width:0.6"/></g>
<g transform="translate(387,175) rotate(25)"><path d="M3,-1.6 L7.5,-1.2 L7.5,1.2 L3,1.6" class="o" style="stroke-width:1"/><ellipse rx="4.4" ry="3.1" class="o" style="stroke-width:1.2"/><ellipse cx="0" rx="2.1" ry="1.3" style="fill:#555;stroke:#222;stroke-width:0.6"/></g>
<g transform="translate(404,169) rotate(22)"><path d="M3,-1.6 L7.5,-1.2 L7.5,1.2 L3,1.6" class="o" style="stroke-width:1"/><ellipse rx="4.4" ry="3.1" class="o" style="stroke-width:1.2"/><ellipse cx="0" rx="2.1" ry="1.3" style="fill:#555;stroke:#222;stroke-width:0.6"/></g>
<g transform="translate(155,110) rotate(-14)"><ellipse cx="2.8" cy="0" rx="3.4" ry="2.2" style="fill:#f2f2f2;stroke:#222;stroke-width:1"/><ellipse cx="-3" cy="0.3" rx="3.6" ry="2.5" style="fill:#fff;stroke:#222;stroke-width:1"/><path d="M-5.5,0.8 Q-3,-1.2 -0.5,0.8" style="fill:none;stroke:#555;stroke-width:0.7"/></g>
<g transform="translate(146,119) rotate(-14)"><ellipse cx="2.8" cy="0" rx="3.4" ry="2.2" style="fill:#f2f2f2;stroke:#222;stroke-width:1"/><ellipse cx="-3" cy="0.3" rx="3.6" ry="2.5" style="fill:#fff;stroke:#222;stroke-width:1"/><path d="M-5.5,0.8 Q-3,-1.2 -0.5,0.8" style="fill:none;stroke:#555;stroke-width:0.7"/></g>
<g transform="translate(134,130) rotate(-14)"><ellipse cx="2.8" cy="0" rx="3.4" ry="2.2" style="fill:#f2f2f2;stroke:#222;stroke-width:1"/><ellipse cx="-3" cy="0.3" rx="3.6" ry="2.5" style="fill:#fff;stroke:#222;stroke-width:1"/><path d="M-5.5,0.8 Q-3,-1.2 -0.5,0.8" style="fill:none;stroke:#555;stroke-width:0.7"/></g>
<g transform="translate(128.5,141) rotate(-14)"><ellipse cx="2.8" cy="0" rx="3.4" ry="2.2" style="fill:#f2f2f2;stroke:#222;stroke-width:1"/><ellipse cx="-3" cy="0.3" rx="3.6" ry="2.5" style="fill:#fff;stroke:#222;stroke-width:1"/><path d="M-5.5,0.8 Q-3,-1.2 -0.5,0.8" style="fill:none;stroke:#555;stroke-width:0.7"/></g>
<g transform="translate(119.5,153) rotate(-14)"><ellipse cx="2.8" cy="0" rx="3.4" ry="2.2" style="fill:#f2f2f2;stroke:#222;stroke-width:1"/><ellipse cx="-3" cy="0.3" rx="3.6" ry="2.5" style="fill:#fff;stroke:#222;stroke-width:1"/><path d="M-5.5,0.8 Q-3,-1.2 -0.5,0.8" style="fill:none;stroke:#555;stroke-width:0.7"/></g>
<g transform="translate(113,168) rotate(-14)"><ellipse cx="2.8" cy="0" rx="3.4" ry="2.2" style="fill:#f2f2f2;stroke:#222;stroke-width:1"/><ellipse cx="-3" cy="0.3" rx="3.6" ry="2.5" style="fill:#fff;stroke:#222;stroke-width:1"/><path d="M-5.5,0.8 Q-3,-1.2 -0.5,0.8" style="fill:none;stroke:#555;stroke-width:0.7"/></g>
<g transform="translate(109.7,179.8) rotate(-14)"><ellipse cx="2.8" cy="0" rx="3.4" ry="2.2" style="fill:#f2f2f2;stroke:#222;stroke-width:1"/><ellipse cx="-3" cy="0.3" rx="3.6" ry="2.5" style="fill:#fff;stroke:#222;stroke-width:1"/><path d="M-5.5,0.8 Q-3,-1.2 -0.5,0.8" style="fill:none;stroke:#555;stroke-width:0.7"/></g>
<g transform="translate(105.5,192) rotate(-14)"><ellipse cx="2.8" cy="0" rx="3.4" ry="2.2" style="fill:#f2f2f2;stroke:#222;stroke-width:1"/><ellipse cx="-3" cy="0.3" rx="3.6" ry="2.5" style="fill:#fff;stroke:#222;stroke-width:1"/><path d="M-5.5,0.8 Q-3,-1.2 -0.5,0.8" style="fill:none;stroke:#555;stroke-width:0.7"/></g>
<path d="M238.7,223.3 Q241,218.5 249.3,216.7 L255.3,216.3 Q258,214.5 262.7,218 Q266,221 265.3,223.3 Q265,227 261.3,231.3 L258.7,236 Q255,239 246,239.3 Q240,238.5 238.7,233.3 Z" class="o"/>
<path d="M249.3,216.7 Q258,225 252,238.7 M255.3,216.3 Q263.5,226 258.7,236" class="of" style="stroke-width:0.9"/>
<path d="M256.5,217 Q263,226 259.5,235" style="fill:none;stroke:#333;stroke-width:1.6"/>
<ellipse cx="244.3" cy="231.3" rx="5.7" ry="7.9" transform="rotate(-25 244.3 231.3)" style="fill:#e4e4e4;stroke:#222;stroke-width:1.1"/>
<path d="M407.3,239 Q407.5,234.5 411.3,233.75 L418.3,237.25 Q421,239 420.1,241.3 L418.3,245.4 L417.2,250.7 Q416,253 413.7,253.6 L409,253 Q406.5,251 406.7,248.3 Z" class="o"/>
<path d="M411.3,233.75 Q414,235.5 413.7,237.8 L414.25,247.2 Q413,251 409.5,253" class="of" style="stroke-width:0.9"/>
<path d="M418.8,239.5 Q415.5,241.5 417.5,244.5" class="of" style="stroke-width:1"/>
<circle cx="409.8" cy="249.3" r="1.7" class="of" style="stroke-width:1"/>
<path d="M401.4,265.25 L403.75,264.7 L413.7,271.7 L414.25,288.6 L412.5,289.75 L401.4,286.8 Z" class="o"/>
<path d="M436.4,300.75 L452.5,292 L455.5,292.5 L459.75,295.5 L460.3,318.8 L446.9,327 L438.2,322.3 L437,318.8 L442.25,314.75 L442.25,304.8 L437.5,303 Z" class="o"/>
<path d="M442.25,304.8 L455.7,297.25 L459.75,295.5 M437.5,302.8 L453.5,294 M446.3,305.4 L452.2,302.5 L452.2,320 M446.3,305.4 L446.5,322 M442.25,314.75 L446.5,317" class="of" style="stroke-width:0.9"/>
<g transform="translate(416,314.3)"><path d="M0.3,8.7 L7.7,4.4 L7.7,24.4 L0.3,29.5 Z" style="fill:#fff;stroke:#222;stroke-width:1.1;stroke-linejoin:round"/><path d="M-7.3,3.4 L0,0 L7.7,4.4 L0.3,8.7 Z" style="fill:#fff;stroke:#222;stroke-width:1.1;stroke-linejoin:round"/><path d="M-13.7,4.7 L-12.5,3.7 L-7,4 L0.3,8.7 L0.3,32.4 L-14,25.7 Z" style="fill:#fff;stroke:#1a1a1a;stroke-width:1.2;stroke-linejoin:round"/><path d="M-4.5,8.5 L0.3,8.7 L0.3,32.4 L-4.5,30.2 Z" style="fill:#ddd;stroke:#555;stroke-width:0.7"/><path d="M-11.8,9 Q-11,7.3 -8.5,8 L-5.2,9.6 L-5.2,17.6 L-11.8,15.4 Z M-11.8,18.3 L-5.2,20.5 L-5.2,29.2 L-11.8,26.3 Z" style="fill:#ececec;stroke:#222;stroke-width:0.9"/></g>
<g transform="translate(450,345.7)"><path d="M0.3,8.7 L7.7,4.4 L7.7,24.4 L0.3,29.5 Z" style="fill:#fff;stroke:#222;stroke-width:1.1;stroke-linejoin:round"/><path d="M-7.3,3.4 L0,0 L7.7,4.4 L0.3,8.7 Z" style="fill:#fff;stroke:#222;stroke-width:1.1;stroke-linejoin:round"/><path d="M-13.7,4.7 L-12.5,3.7 L-7,4 L0.3,8.7 L0.3,32.4 L-14,25.7 Z" style="fill:#fff;stroke:#1a1a1a;stroke-width:1.2;stroke-linejoin:round"/><path d="M-4.5,8.5 L0.3,8.7 L0.3,32.4 L-4.5,30.2 Z" style="fill:#ddd;stroke:#555;stroke-width:0.7"/><path d="M-11.8,9 Q-11,7.3 -8.5,8 L-5.2,9.6 L-5.2,17.6 L-11.8,15.4 Z M-11.8,18.3 L-5.2,20.5 L-5.2,29.2 L-11.8,26.3 Z" style="fill:#ececec;stroke:#222;stroke-width:0.9"/></g>
<path d="M185.3,297.7 Q186,291 193.7,288.5 L199.6,288.1 Q202,286.5 205.5,289.2 Q206,290.5 204.7,291.4 Q208,294 209.1,297.7 Q212,303 212.8,306.5 Q215,312 214.3,313.8 Q214,319 212.8,320.4 Q210.5,323.5 208.4,323.7 Q205,324 202.5,323.3 Q199,322 196.7,319.7 L190.8,313.8 Q187.5,310 186.4,306.5 Q185,302 185.3,297.7 Z" class="o" style="stroke-width:1.2"/>
<path d="M187.9,293.3 L191.5,296.2 Q196,296.5 200.3,294.7 L202.5,291.8 M202,292 L201.8,298.4 L206.2,303.5 L209.1,307.2 M207.7,308 Q208.5,312 206.9,314.5 Q205,317.5 202.5,317.5 L198,317" class="of" style="stroke-width:1"/>
<path d="M189.3,295.5 Q188.5,302 189,308.7 M192,317 L208,308" class="g" style="stroke:#ccc"/>
<circle cx="199" cy="318" r="0.9" style="fill:#333"/><circle cx="209" cy="306.5" r="0.9" style="fill:#333"/>
<path d="M152.6,313.8 Q157,306 162.5,304.5 Q168,302.5 176.5,306.8 Q182,311 185.8,320.8 Q187.5,327 188.2,332.5 L190,333.7 L189.3,337.2 L177.7,343.6 Q172,343 168.3,341.25 Q159,338 153.75,329 Q151,321 152.6,313.8 Z" class="o"/>
<path d="M154.5,312 Q166,309 170.5,321 Q174,330 173,338.3 M176.5,336.5 L187,332.5 M157,308 L160,310" class="of" style="stroke-width:0.9"/>
<path d="M160,306 Q170,305 177,312" class="g"/>
<path d="M218,296.5 L170.7,323.5" class="w"/>
<path d="M170.7,323.5 L140,341.7" style="stroke:#ccc;stroke-width:0.9"/>
<path d="M171,321.5 L181,318.5 M172,325 L182,322" class="of" style="stroke-width:0.8"/>
<path d="M141,344.3 L151.2,338.8" style="stroke:#222;stroke-width:3;stroke-linecap:round"/><path d="M141.5,344 L150.8,339" style="stroke:#f4f4f4;stroke-width:1.2;stroke-linecap:round"/>
<circle cx="138.7" cy="345.7" r="3" class="o"/><path d="M137,344 L140.5,347.5" class="of" style="stroke-width:0.7"/>
<path d="M85.9,368.3 Q87,364.5 93.3,361.4 L99.3,355.8 L103.7,353.6 L111.5,347.5 L116.7,346.2 Q118,344.5 119.3,344.5 L123.6,344.5 Q127,345.5 128,348.4 Q130.5,351 130.1,353.6 L129.7,358.8 Q128,361 125.3,362.3 L116.7,367.5 L108,372.7 L99.3,373.5 Q97,376 95,376.1 L89.8,376.1 Q86,374.5 86.3,373.5 Q85,371 85.9,368.3 Z" class="o"/>
<path d="M93.3,362.3 Q98,363 98.9,368.3 Q99,372 98.5,374 M115.8,346.7 Q121,350 122.7,353.6 Q125,358 124.5,362.8" class="of" style="stroke-width:1"/>
<path d="M97,358 Q102,364 102,372 M100,356 Q105,362 105,372 M104,354 Q109,360 108.5,371 M110,350 Q114,357 113,369" class="g" style="stroke:#ccc"/>
<circle cx="88.6" cy="372" r="0.9" style="fill:#444"/>
<g transform="translate(252.5,300) rotate(-20)"><ellipse rx="3.2" ry="4.0" style="fill:#777;stroke:#1a1a1a;stroke-width:1.1"/><ellipse rx="1.60" ry="2.00" style="fill:#fff;stroke:#333;stroke-width:0.9"/></g>
<g transform="translate(259.2,296.7) rotate(-20)"><ellipse rx="3.4" ry="3.8" style="fill:#e6e6e6;stroke:#1a1a1a;stroke-width:1.1"/><ellipse rx="1.70" ry="1.90" style="fill:#fff;stroke:#333;stroke-width:0.9"/></g>
<path d="M215,300.8 L220,300 L235.8,309.2 L248.3,303.3" class="g"/>
<path d="M283,321.5 Q287,318 291,320.8 L403.7,390.5 L401,409 Q398,420 392.5,425.5 L385,433 L374.5,439 L368.5,440.5 L263.3,382 Q257.7,379 257.7,375 L257.7,347 Q257.7,343.5 260.5,341 Z" class="o"/>
<path d="M260.3,343 L370,403.75 L402.2,390.2 M369.5,404 L369,439" class="g"/>
<path d="M263,351 L273,356.3 L273,380.3 L263.7,374.3 Z M354.25,403.75 L364,409 L364.75,430 L355.75,427 Z" class="of"/>
<path d="M281.1,361.1 L344.8,396.8" class="of"/>
<path d="M344.8,396.8 Q348.5,402 349,413.6 Q348.5,418 346.2,422" style="fill:none;stroke:#555;stroke-width:1"/>
<path d="M342,408 Q343.5,402 344.8,399.6" style="fill:none;stroke:#333;stroke-width:0.9"/>
<path d="M281.1,361.1 Q278.5,366 279,370.2 Q279.3,378 280.4,382.8 L283.2,385.6 L346.2,422 M288.8,366 Q290.5,372 291.6,378.6 L305.6,387 L314,382.1 M304.2,374.4 Q306,380 305.6,387 M291.6,378.6 L283.2,385.6" class="g" style="stroke:#bbb"/>
<path d="M296.5,371.5 L299,373" style="stroke:#333;stroke-width:1"/>
<path d="M372,371.3 L381,367.5" style="stroke:#222;stroke-width:2.6"/><path d="M372,371.3 L381,367.5" style="stroke:#fff;stroke-width:0.9"/>
<g transform="translate(383.3,367.3) rotate(-20)"><ellipse rx="3.3" ry="4.0" style="fill:#888;stroke:#1a1a1a;stroke-width:1.1"/><ellipse rx="1.65" ry="2.00" style="fill:#fff;stroke:#333;stroke-width:0.9"/></g>
<g transform="translate(388.9,363.5) rotate(-20)"><ellipse rx="3.4" ry="4.0" style="fill:#aaa;stroke:#1a1a1a;stroke-width:1.1"/><ellipse rx="1.70" ry="2.00" style="fill:#fff;stroke:#333;stroke-width:0.9"/></g>
<g transform="translate(394.9,360) rotate(-20)"><ellipse rx="3.4" ry="3.8" style="fill:#e8e8e8;stroke:#1a1a1a;stroke-width:1.1"/><ellipse rx="1.70" ry="1.90" style="fill:#fff;stroke:#333;stroke-width:0.9"/></g>
<path d="M209.2,449.2 L218.3,445.8 L281.7,480 L282.5,498.3 L273,506 L268.3,513.3 L205,477.5 Q200.5,476 200.8,472 L200,455 Q200,449 206.7,448.3 Z" class="o"/>
<path d="M206.7,448.3 L268.3,481.7 Q273,484 273.3,490 L273.3,506.7" class="of"/>
<path d="M204,454 L268,487 L268,508 L205,473 Z" class="of" style="stroke-width:0.8"/>
<path d="M210,460 L265,490" class="g"/>
<path d="M258.3,466.7 L265,463.3 M258.5,465 L265,461.5" class="w" style="stroke-width:0.9"/>
<path d="M265,458.3 L270,455.8 L277.5,452.5 Q281,452.5 282.5,455 L282.5,459.2 L273.3,466.7 L268.3,466.7 L265,463.3 Z" class="o"/>
<path d="M265,458.3 L270,460 L270,466.7 M270,460 L282.5,455" class="of" style="stroke-width:0.9"/><path d="M272.5,457.5 L277.5,455 L278,458 L274,460 Z" style="fill:#333"/>
<line x1="231" y1="453" x2="236" y2="450" style="stroke:#222;stroke-width:1.6"/>
<g transform="translate(293.75,478.75) rotate(-20)"><ellipse rx="3.3" ry="4.0" style="fill:#222;stroke:#1a1a1a;stroke-width:1.3"/><ellipse rx="1.48" ry="1.80" style="fill:#fff;stroke:#333;stroke-width:0.9"/></g>
<g transform="translate(301.7,474.7) rotate(-20)"><ellipse rx="3.9" ry="4.4" style="fill:#ddd;stroke:#1a1a1a;stroke-width:1.1"/><ellipse rx="1.95" ry="2.20" style="fill:#fff;stroke:#333;stroke-width:0.9"/></g>
<path d="M282,484.3 L291,480.5" style="stroke:#333;stroke-width:2.6;stroke-linecap:round"/><path d="M282.5,484 L290.5,480.7" style="stroke:#eee;stroke-width:1"/>
<path d="M156.5,476 L221.75,512.75 Q224,515 224,519.5 L223.25,533 Q222,540 219.5,540.5 L213.5,543.5 L150.5,509.75 Q147.5,507 147.5,504.5 L146,485 Q146,482 147.5,482 Z" class="o"/>
<path d="M168.5,492.5 L168.5,518.75 M176.75,488.75 L168.5,492.5" class="of"/>
<path d="M148,483 L176,498 M170,494 L222,521 M188,508.25 L188.75,527.75 M170,497.75 L212,519.5 L214,530" class="g"/>
<circle cx="149.75" cy="495.5" r="1" class="of"/><circle cx="211.25" cy="530.75" r="1" class="of"/>
<ellipse cx="197.3" cy="481.8" rx="3.3" ry="3.6" style="fill:#e6e6e6;stroke:#222;stroke-width:1.1"/><circle cx="191.5" cy="484.6" r="4.9" style="fill:#fff;stroke:#222;stroke-width:1.1"/>
<ellipse cx="247.4" cy="509.7" rx="3.3" ry="3.6" style="fill:#e6e6e6;stroke:#222;stroke-width:1.1"/><circle cx="241.3" cy="513" r="4.9" style="fill:#fff;stroke:#222;stroke-width:1.1"/>
<path d="M381.7,448.2 L486,505.75 L486.75,517.75 L487.5,519.25 L488.25,575.5 L438,547.75 L433.5,545.5 L431.25,544 L382.8,517 Z" style="fill:#fff;stroke:#999;stroke-width:0.8"/>
<path d="M381.7,448.2 L486,505.75 L486.75,517.75" style="fill:none;stroke:#1a1a1a;stroke-width:1.5"/>
<path d="M382.8,517 L431.25,544 L433.5,545.5 L438,547.75 L488.25,575.5 L487.5,519.25" style="fill:none;stroke:#1a1a1a;stroke-width:1.2"/>
<path d="M382.8,458.7 L486,515 M382.8,462.2 L486,518.5 M391,474.5 L413,485 M425,493.2 L446,504.5 M459,513.25 L466.5,517 L480,511" class="g"/>
<path d="M390.5,494.7 L429.5,472.25 M390.5,510.5 L446,479 M442.5,540 L450,535 L456,540 L455,548" style="stroke:#aaa;stroke-width:0.8;stroke-dasharray:3 2;fill:none"/>
<path d="M383,449 L383.5,516" style="stroke:#777;stroke-width:0.9"/>
<circle cx="385.2" cy="455.2" r="1.4" style="fill:#1a1a1a"/><circle cx="480.75" cy="509.5" r="1.5" style="fill:#1a1a1a"/>
<circle cx="390.5" cy="494.7" r="1" style="fill:#333"/><circle cx="390.5" cy="510.5" r="1" style="fill:#333"/>
<path d="M386,496 Q391,499 387,503" class="of" style="stroke-width:0.9"/>
<path d="M357.7,470.7 L383,459 M457,457 L429.5,472.25 M446.7,464.75 L446.7,479 L443,481 M370,507 L388,497 M371,522 L388,512 M424,558.5 L435,552.3" style="stroke:#bbb;stroke-width:0.8;fill:none"/>
<path d="M369.5,506.5 L372,507 L372,509 L369.5,509 Z M369.5,521.5 L372,522 L372,524 L369.5,524 Z" style="fill:#222;stroke:#222;stroke-width:0.8"/>
<path d="M350.25,510.4 Q352,503 356.2,500.6 L360,499.2 L364,501.3 L369.5,504.8 L369.9,525.1 L368.1,528.6 L359,532.1 L350.25,527.9 Z" class="o"/>
<path d="M366.5,505.5 Q360.5,508.5 359,513.2 L358.3,531.4" class="of" style="stroke-width:1.1"/>
<path d="M360.5,512 L361,530.5 M362.8,510 L363.3,529.5" style="stroke:#999;stroke-width:1.1"/><path d="M365.5,508.5 L366,528" style="stroke:#666;stroke-width:1.1"/>
<path d="M352,511 L358.5,513" class="g"/>
<g transform="translate(346.7,477.7) rotate(-20)"><ellipse rx="3.6" ry="4.1" style="fill:#999;stroke:#1a1a1a;stroke-width:1.1"/><ellipse rx="1.80" ry="2.05" style="fill:#fff;stroke:#333;stroke-width:0.9"/></g>
<g transform="translate(354.3,473.7) rotate(-20)"><ellipse rx="4.0" ry="4.6" style="fill:#bbb;stroke:#1a1a1a;stroke-width:1.1"/><ellipse rx="2.00" ry="2.30" style="fill:#fff;stroke:#333;stroke-width:0.9"/></g>
<g transform="translate(459.6,455.8) rotate(-20)"><ellipse rx="3.6" ry="4.5" style="fill:#888;stroke:#1a1a1a;stroke-width:1.1"/><ellipse rx="1.80" ry="2.25" style="fill:#fff;stroke:#333;stroke-width:0.9"/></g>
<g transform="translate(467.1,451.7) rotate(-20)"><ellipse rx="3.3" ry="3.7" style="fill:#ccc;stroke:#1a1a1a;stroke-width:1.1"/><ellipse rx="1.65" ry="1.85" style="fill:#fff;stroke:#333;stroke-width:0.9"/></g>
<g transform="translate(412.1,565.9) rotate(-20)"><ellipse rx="3.4" ry="4.0" style="fill:#ccc;stroke:#1a1a1a;stroke-width:1.1"/><ellipse rx="1.70" ry="2.00" style="fill:#fff;stroke:#333;stroke-width:0.9"/></g>
<g transform="translate(420,560.8) rotate(-20)"><ellipse rx="3.8" ry="4.5" style="fill:#999;stroke:#1a1a1a;stroke-width:1.1"/><ellipse rx="1.90" ry="2.25" style="fill:#fff;stroke:#333;stroke-width:0.9"/></g>
<g transform="translate(386.25,77.75) rotate(-20)"><ellipse rx="3.0" ry="4.0" style="fill:#555;stroke:#1a1a1a;stroke-width:1.1"/><ellipse rx="1.50" ry="2.00" style="fill:#fff;stroke:#333;stroke-width:0.9"/></g>
<g transform="translate(393.8,74.25) rotate(-20)"><ellipse rx="3.5" ry="4.2" style="fill:#e6e6e6;stroke:#1a1a1a;stroke-width:1.1"/><ellipse rx="1.75" ry="2.10" style="fill:#fff;stroke:#333;stroke-width:0.9"/></g>
<circle cx="404" cy="322" r="29.5" style="fill:none;stroke:#d8262e;stroke-width:1.6"/>
<line x1="206.7" y1="148.9" x2="208.8" y2="146.8" class="ld"/><polygon points="212.3,143.3 211.4,146.1 208.8,146.8 209.5,144.2" class="ah"/><circle cx="201.3" cy="154.3" r="7.1" class="lc"/><text transform="translate(201.3,157.15) scale(0.88,1)">1</text>
<line x1="308.1" y1="96.7" x2="307.3" y2="95.8" class="ld"/><polygon points="304.0,92.0 306.7,93.1 307.3,95.8 304.7,94.8" class="ah"/><circle cx="313" cy="102.5" r="7.1" class="lc"/><text transform="translate(313,105.35) scale(0.88,1)">2</text>
<line x1="407.4" y1="69.5" x2="403.9" y2="70.4" class="ld"/><polygon points="399.0,71.5 401.2,69.6 403.9,70.4 401.8,72.2" class="ah"/><circle cx="414.8" cy="67.8" r="7.1" class="lc"/><text transform="translate(414.8,70.65) scale(0.88,1)">14</text>
<line x1="394.9" y1="88.1" x2="393.5" y2="86.6" class="ld"/><polygon points="390.0,83.0 392.7,84.0 393.5,86.6 390.9,85.8" class="ah"/><circle cx="400.25" cy="93.5" r="7.1" class="lc"/><text transform="translate(400.25,96.35) scale(0.88,1)">16</text>
<line x1="426.0" y1="243.1" x2="424.4" y2="243.4" class="ld"/><polygon points="419.5,244.2 421.8,242.5 424.4,243.4 422.3,245.1" class="ah"/><circle cx="433.5" cy="241.8" r="7.1" class="lc"/><text transform="translate(433.5,244.65) scale(0.88,1)">9</text>
<line x1="391.0" y1="274.7" x2="392.6" y2="275.1" class="ld"/><polygon points="397.5,276.0 394.7,276.8 392.6,275.1 395.2,274.2" class="ah"/><circle cx="383.5" cy="273.3" r="7.1" class="lc"/><text transform="translate(383.5,276.15) scale(0.88,1)">19</text>
<line x1="436.5" y1="290.3" x2="438.0" y2="291.6" class="ld"/><polygon points="441.7,294.9 438.9,294.1 438.0,291.6 440.6,292.2" class="ah"/><circle cx="430.8" cy="285.2" r="7.1" class="lc"/><text transform="translate(430.8,288.05) scale(0.88,1)">18</text>
<line x1="404.9" y1="310.9" x2="406.2" y2="312.3" class="ld"/><polygon points="409.6,315.9 406.9,314.9 406.2,312.3 408.8,313.1" class="ah"/><circle cx="399.7" cy="305.4" r="7.1" class="lc"/><text transform="translate(399.7,308.25) scale(0.88,1)">17</text>
<line x1="176.6" y1="290.2" x2="178.3" y2="290.8" class="ld"/><polygon points="183.0,292.5 180.1,292.8 178.3,290.8 181.0,290.4" class="ah"/><circle cx="169.5" cy="287.6" r="7.1" class="lc"/><text transform="translate(169.5,290.45) scale(0.88,1)">20</text>
<line x1="271.5" y1="304.5" x2="269.7" y2="303.1" class="ld"/><polygon points="265.8,300.0 268.6,300.6 269.7,303.1 267.0,302.6" class="ah"/><circle cx="277.5" cy="309.2" r="7.1" class="lc"/><text transform="translate(277.5,312.05) scale(0.88,1)">12</text>
<line x1="259.0" y1="312.8" x2="257.8" y2="310.4" class="ld"/><polygon points="255.5,306.0 257.8,307.7 257.8,310.4 255.5,308.9" class="ah"/><circle cx="262.5" cy="319.6" r="7.1" class="lc"/><text transform="translate(262.5,322.45) scale(0.88,1)">13</text>
<line x1="187.8" y1="350.6" x2="187.1" y2="347.9" class="ld"/><polygon points="186.0,343.0 187.9,345.2 187.1,347.9 185.3,345.8" class="ah"/><circle cx="189.5" cy="358" r="7.1" class="lc"/><text transform="translate(189.5,360.85) scale(0.88,1)">10</text>
<line x1="148.5" y1="353.7" x2="147.6" y2="350.8" class="ld"/><polygon points="146.3,346.0 148.3,348.2 147.6,350.8 145.7,348.9" class="ah"/><circle cx="150.5" cy="361" r="7.1" class="lc"/><text transform="translate(150.5,363.85) scale(0.88,1)">11</text>
<line x1="120.3" y1="375.5" x2="119.5" y2="373.6" class="ld"/><polygon points="117.5,369.0 119.7,370.9 119.5,373.6 117.3,371.9" class="ah"/><circle cx="123.3" cy="382.5" r="7.1" class="lc"/><text transform="translate(123.3,385.35) scale(0.88,1)">21</text>
<line x1="374.5" y1="358.4" x2="375.5" y2="359.4" class="ld"/><polygon points="379.0,363.0 376.3,362.1 375.5,359.4 378.1,360.2" class="ah"/><circle cx="369.2" cy="353" r="7.1" class="lc"/><text transform="translate(369.2,355.85) scale(0.88,1)">25</text>
<line x1="407.2" y1="360.5" x2="405.0" y2="360.8" class="ld"/><polygon points="400.0,361.5 402.4,359.9 405.0,360.8 402.8,362.4" class="ah"/><circle cx="414.7" cy="359.5" r="7.1" class="lc"/><text transform="translate(414.7,362.35) scale(0.88,1)">8</text>
<line x1="397.7" y1="372.8" x2="396.3" y2="371.2" class="ld"/><polygon points="393.0,367.5 395.7,368.6 396.3,371.2 393.8,370.3" class="ah"/><circle cx="402.8" cy="378.5" r="7.1" class="lc"/><text transform="translate(402.8,381.35) scale(0.88,1)">24</text>
<line x1="460.3" y1="380.8" x2="458.1" y2="378.1" class="ld"/><polygon points="455.0,374.2 457.6,375.4 458.1,378.1 455.6,377.0" class="ah"/><circle cx="465" cy="386.7" r="7.1" class="lc"/><text transform="translate(465,389.55) scale(0.88,1)">22</text>
<line x1="305.2" y1="416.9" x2="307.0" y2="414.9" class="ld"/><polygon points="310.4,411.2 309.6,414.0 307.0,414.9 307.7,412.3" class="ah"/><circle cx="300" cy="422.5" r="7.1" class="lc"/><text transform="translate(300,425.35) scale(0.88,1)">23</text>
<line x1="215.7" y1="436.1" x2="216.2" y2="437.7" class="ld"/><polygon points="217.5,442.5 215.6,440.3 216.2,437.7 218.1,439.6" class="ah"/><circle cx="213.75" cy="428.75" r="7.1" class="lc"/><text transform="translate(213.75,431.60) scale(0.88,1)">3</text>
<line x1="185.2" y1="470.7" x2="185.5" y2="471.9" class="ld"/><polygon points="186.5,476.8 184.7,474.5 185.5,471.9 187.2,474.0" class="ah"/><circle cx="183.7" cy="463.3" r="7.1" class="lc"/><text transform="translate(183.7,466.15) scale(0.88,1)">5</text>
<line x1="314.5" y1="483.8" x2="311.9" y2="481.1" class="ld"/><polygon points="308.5,477.5 311.2,478.5 311.9,481.1 309.3,480.3" class="ah"/><circle cx="319.7" cy="489.3" r="7.1" class="lc"/><text transform="translate(319.7,492.15) scale(0.88,1)">8</text>
<line x1="299.1" y1="493.9" x2="298.3" y2="490.8" class="ld"/><polygon points="297.0,486.0 298.9,488.2 298.3,490.8 296.4,488.8" class="ah"/><circle cx="301" cy="501.3" r="7.1" class="lc"/><text transform="translate(301,504.15) scale(0.88,1)">7</text>
<line x1="245.8" y1="528.8" x2="244.9" y2="524.9" class="ld"/><polygon points="243.8,520.0 245.6,522.2 244.9,524.9 243.1,522.8" class="ah"/><circle cx="247.5" cy="536.25" r="7.1" class="lc"/><text transform="translate(247.5,539.10) scale(0.88,1)">6</text>
<line x1="217.0" y1="554.0" x2="216.3" y2="551.1" class="ld"/><polygon points="215.2,546.2 217.1,548.4 216.3,551.1 214.5,549.0" class="ah"/><circle cx="218.7" cy="561.4" r="7.1" class="lc"/><text transform="translate(218.7,564.25) scale(0.88,1)">4</text>
<line x1="341.1" y1="465.5" x2="342.2" y2="468.3" class="ld"/><polygon points="344.0,473.0 341.9,471.0 342.2,468.3 344.3,470.1" class="ah"/><circle cx="338.4" cy="458.4" r="7.1" class="lc"/><text transform="translate(338.4,461.25) scale(0.88,1)">27</text>
<line x1="356.3" y1="459.7" x2="355.4" y2="463.2" class="ld"/><polygon points="354.0,468.0 353.5,465.1 355.4,463.2 356.0,465.9" class="ah"/><circle cx="358.4" cy="452.4" r="7.1" class="lc"/><text transform="translate(358.4,455.25) scale(0.88,1)">26</text>
<line x1="454.2" y1="442.9" x2="455.4" y2="446.3" class="ld"/><polygon points="457.0,451.0 454.9,449.0 455.4,446.3 457.4,448.1" class="ah"/><circle cx="451.8" cy="435.7" r="7.1" class="lc"/><text transform="translate(451.8,438.55) scale(0.88,1)">30</text>
<line x1="467.4" y1="438.9" x2="466.9" y2="441.1" class="ld"/><polygon points="466.0,446.0 465.2,443.2 466.9,441.1 467.8,443.7" class="ah"/><circle cx="468.8" cy="431.4" r="7.1" class="lc"/><text transform="translate(468.8,434.25) scale(0.88,1)">31</text>
<line x1="469.1" y1="485.7" x2="468.6" y2="487.3" class="ld"/><polygon points="467.0,492.0 466.6,489.1 468.6,487.3 469.1,489.9" class="ah"/><circle cx="471.5" cy="478.5" r="7.1" class="lc"/><text transform="translate(471.5,481.35) scale(0.88,1)">28</text>
<line x1="364.2" y1="541.5" x2="363.9" y2="539.9" class="ld"/><polygon points="363.0,535.0 364.8,537.3 363.9,539.9 362.2,537.8" class="ah"/><circle cx="365.6" cy="549" r="7.1" class="lc"/><text transform="translate(365.6,551.85) scale(0.88,1)">29</text>
<line x1="408.3" y1="577.8" x2="408.8" y2="575.9" class="ld"/><polygon points="410.0,571.0 410.6,573.8 408.8,575.9 408.1,573.2" class="ah"/><circle cx="406.5" cy="585.2" r="7.1" class="lc"/><text transform="translate(406.5,588.05) scale(0.88,1)">27</text>
<line x1="423.7" y1="575.7" x2="422.3" y2="570.8" class="ld"/><polygon points="421.0,566.0 423.0,568.2 422.3,570.8 420.4,568.9" class="ah"/><circle cx="425.75" cy="583" r="7.1" class="lc"/><text transform="translate(425.75,585.85) scale(0.88,1)">26</text>
</svg></body></html>
